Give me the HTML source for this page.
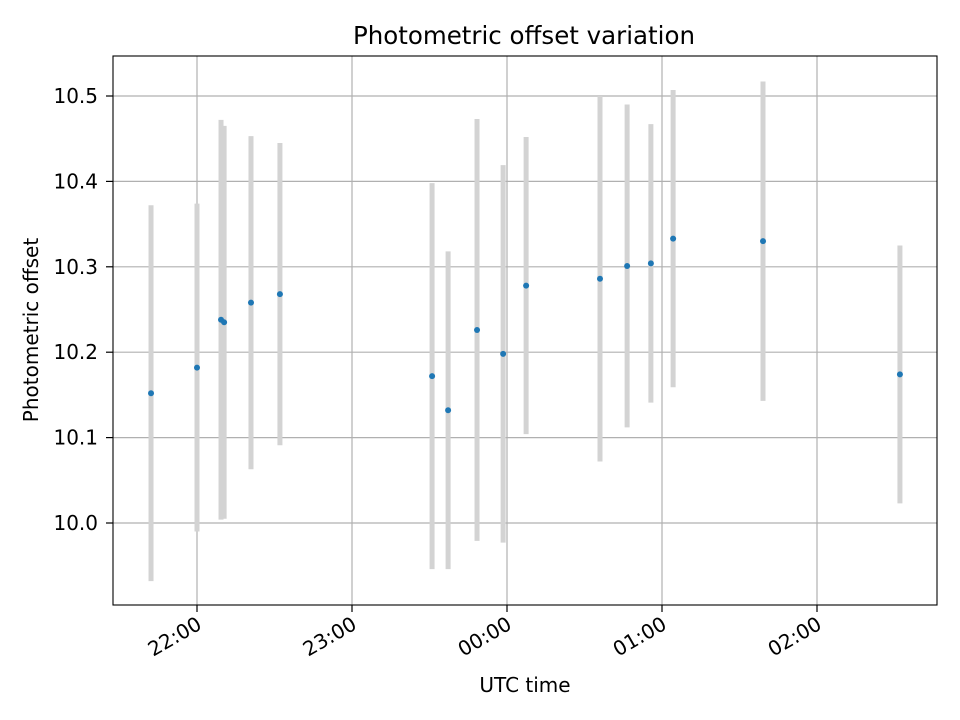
<!DOCTYPE html>
<html><head><meta charset="utf-8"><style>
body{margin:0;background:#fff}
svg{display:block;font-family:"DejaVu Sans","Liberation Sans",sans-serif}
</style></head><body>
<svg id="chart" width="960" height="720" viewBox="0 0 960 720">
<rect width="960" height="720" fill="#fff"/>
<text x="524" y="44" font-size="24.5" text-anchor="middle">Photometric offset variation</text>
<g id="grid"></g>
<g id="errs"></g>
<g id="pts"></g>
<rect x="113" y="56" width="824" height="549" fill="none" stroke="#000" stroke-width="1.1"/>
<g id="ticks"></g>
<text x="525" y="692" font-size="20" text-anchor="middle">UTC time</text>
<text x="38" y="330" font-size="20" text-anchor="middle" transform="rotate(-90 38 330)">Photometric offset</text>
</svg>
<script>
// minutes since 22:00 UTC
const times = [-17.8, 0, 9.3, 10.5, 20.9, 32.1, 91.0, 97.2, 108.4, 118.5, 127.4, 156.0, 166.5, 175.7, 184.3, 219.1, 272.1];
const offsets = [10.152, 10.182, 10.238, 10.235, 10.258, 10.268, 10.172, 10.132, 10.226, 10.198, 10.278, 10.286, 10.301, 10.304, 10.333, 10.330, 10.174];
const errors = [0.220, 0.192, 0.234, 0.230, 0.195, 0.177, 0.226, 0.186, 0.247, 0.221, 0.174, 0.214, 0.189, 0.163, 0.174, 0.187, 0.151];
const yTicks = [10.0, 10.1, 10.2, 10.3, 10.4, 10.5];
const xTickMinutes = [0, 60, 120, 180, 240];
const xTickLabels = ["22:00", "23:00", "00:00", "01:00", "02:00"];

const NS = "http://www.w3.org/2000/svg";
const X = m => 197 + m * 155 / 60;
const Y = v => 523 - (v - 10.0) * 854;
function mk(tag, attrs, parent){const e=document.createElementNS(NS,tag);for(const k in attrs)e.setAttribute(k,attrs[k]);parent.appendChild(e);return e;}
const grid=document.getElementById('grid'), ticks=document.getElementById('ticks');
yTicks.forEach(v=>{
  const y=Y(v);
  const g=mk('line',{x1:113,x2:937,y1:y,y2:y,stroke:'#b0b0b0','stroke-width':1.2},grid);
  
  
  const t=mk('line',{x1:106,x2:113,y1:y,y2:y,stroke:'#000','stroke-width':1.2},ticks);
  
  
  const l=mk('text',{x:98,y:y+7,'font-size':20,'text-anchor':'end'},ticks);
  l.textContent=v.toFixed(1);
  
  
});
xTickMinutes.forEach((m,i)=>{
  const x=X(m);
  const g=mk('line',{x1:x,x2:x,y1:56,y2:605,stroke:'#b0b0b0','stroke-width':1.2},grid);
  
  
  const t=mk('line',{x1:x,x2:x,y1:605,y2:612,stroke:'#000','stroke-width':1.2},ticks);
  
  
  const l=mk('text',{x:x+6,y:628,'font-size':20,'text-anchor':'end',transform:`rotate(-30 ${x+6} 628)`},ticks);
  l.textContent=xTickLabels[i];
  
  
});
const errs=document.getElementById('errs'), pts=document.getElementById('pts');
times.forEach((m,i)=>{
  const x=X(m);
  const e=mk('line',{x1:x,x2:x,y1:Y(offsets[i]+errors[i]),y2:Y(offsets[i]-errors[i]),stroke:'#d3d3d3','stroke-width':5},errs);
  
  
  const c=mk('circle',{cx:x,cy:Y(offsets[i]),r:3,fill:'#1f77b4'},pts);
  
  
});
</script>
</body></html>
